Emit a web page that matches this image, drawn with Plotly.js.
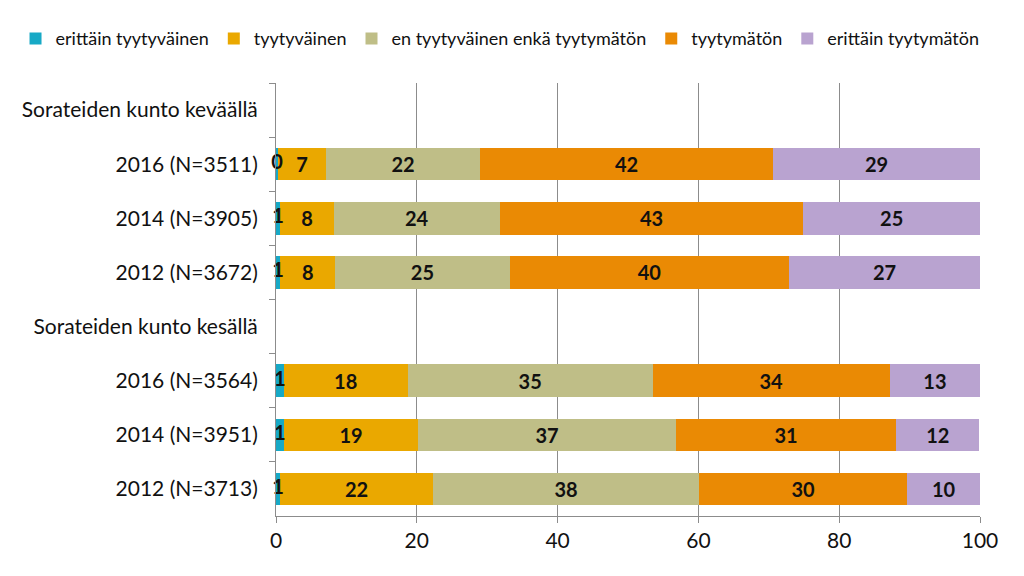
<!DOCTYPE html>
<html>
<head>
<meta charset="utf-8">
<script src="https://cdn.plot.ly/plotly-3.0.1.min.js"></script>
<style>html,body{margin:0;padding:0;background:#fff;}#chart{width:1024px;height:576px;}</style>
</head>
<body>
<div id="chart"></div>
<script>
var categories = [
  "Sorateiden kunto keväällä",
  "2016 (N=3511)",
  "2014 (N=3905)",
  "2012 (N=3672)",
  "Sorateiden kunto kesällä",
  "2016 (N=3564)",
  "2014 (N=3951)",
  "2012 (N=3713)"
];
var seriesNames = ["erittäin tyytyväinen", "tyytyväinen", "en tyytyväinen enkä tyytymätön", "tyytymätön", "erittäin tyytymätön"];
var erittainTyytyvainen = [null, 0.3, 0.6, 0.6, null, 1.1, 1.1, 0.6];
var tyytyvainen        = [null, 6.8, 7.6, 7.8, null, 17.6, 19.1, 21.7];
var enEnka             = [null, 21.9, 23.6, 24.8, null, 34.8, 36.6, 37.8];
var tyytymaton         = [null, 41.6, 43.1, 39.7, null, 33.7, 31.3, 29.6];
var erittainTyytymaton = [null, 29.4, 25.1, 27.1, null, 12.8, 11.8, 10.3];
var colors = ["#17A9C6", "#EAA800", "#BFBE87", "#EA8A04", "#B9A3D0"];
var xTicks = [0, 20, 40, 60, 80, 100];

var series = [erittainTyytyvainen, tyytyvainen, enEnka, tyytymaton, erittainTyytymaton];
var font = "Lato, 'Open Sans', sans-serif";
var traces = series.map(function (vals, i) {
  return {
    type: "bar",
    orientation: "h",
    name: seriesNames[i],
    y: categories,
    x: vals,
    marker: {color: colors[i], line: {width: 0}},
    text: i === 0 ? null : vals.map(function (v) { return v === null ? "" : String(Math.round(v)); }),
    textposition: i === 0 ? "none" : "inside",
    insidetextanchor: "middle",
    constraintext: "none",
    cliponaxis: false,
    textangle: 0,
    textfont: {family: font, size: 20, color: "#111", weight: "bold"},
    hoverinfo: "x+name"
  };
});
// labels for the tiny first segment, drawn at its middle
traces.push({
  type: "scatter",
  mode: "text",
  showlegend: false,
  y: categories,
  x: erittainTyytyvainen.map(function (v) { return v === null ? null : v / 2; }),
  text: erittainTyytyvainen.map(function (v) { return v === null ? "" : String(Math.round(v)); }),
  textposition: "middle center",
  textfont: {family: font, size: 20, color: "#111", weight: "bold"},
  hoverinfo: "skip",
  cliponaxis: false
});

var layout = {
  width: 1024, height: 576,
  paper_bgcolor: "#fff", plot_bgcolor: "#fff",
  barmode: "stack",
  bargap: 0.4,
  margin: {l: 276, r: 44, t: 83, b: 60},
  font: {family: font, size: 18, color: "#111"},
  showlegend: true,
  legend: {
    orientation: "h", x: -0.37, xref: "paper", y: 1.145, yref: "paper", yanchor: "top",
    xanchor: "left",
    font: {family: font, size: 18, color: "#111"},
    itemwidth: 30, tracegroupgap: 0, traceorder: "normal"
  },
  xaxis: {
    range: [0, 100], tickvals: xTicks, ticktext: xTicks.map(String),
    showgrid: true, gridcolor: "#8c8c8c", gridwidth: 1,
    showline: true, linecolor: "#8c8c8c", ticks: "outside", ticklen: 6, tickcolor: "#8c8c8c",
    zeroline: false, tickfont: {family: font, size: 21, color: "#111"}, fixedrange: true
  },
  yaxis: {
    type: "category", categoryorder: "array", categoryarray: categories,
    autorange: "reversed",
    showline: true, linecolor: "#8c8c8c", ticks: "outside", ticklen: 6, tickcolor: "#8c8c8c",
    tickson: "boundaries", showgrid: false, zeroline: false,
    ticklabelstandoff: 13,
    tickfont: {family: font, size: 21, color: "#111"}, fixedrange: true
  }
};
Plotly.newPlot("chart", traces, layout, {displayModeBar: false, staticPlot: true});
</script>
</body>
</html>
